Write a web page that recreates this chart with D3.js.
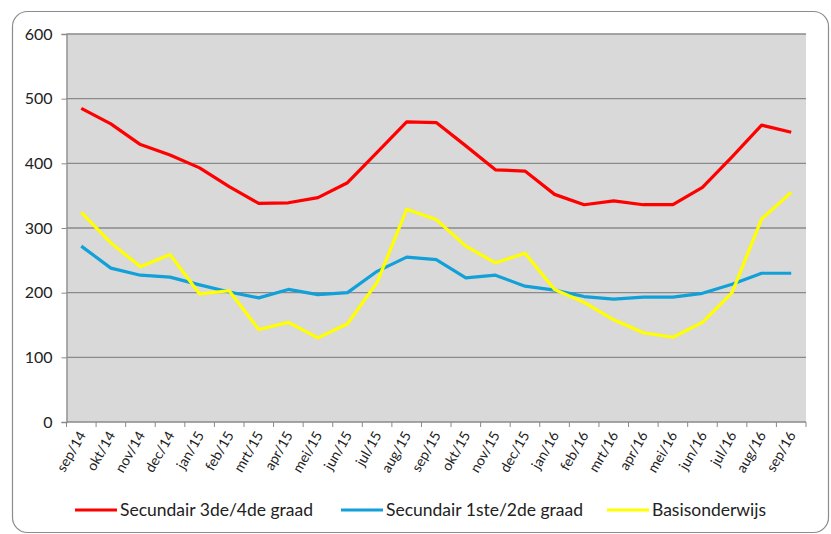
<!DOCTYPE html>
<html>
<head>
<meta charset="utf-8">
<script src="https://cdn.jsdelivr.net/npm/d3@7"></script>
<style>
  body { margin: 0; background: #fff; }
  svg text { font-family: Lato, "Open Sans", sans-serif; fill: #222; }
</style>
</head>
<body>
<div id="chart"></div>
<script>
var months = ["sep/14","okt/14","nov/14","dec/14","jan/15","feb/15","mrt/15","apr/15","mei/15","jun/15","jul/15","aug/15",
              "sep/15","okt/15","nov/15","dec/15","jan/16","feb/16","mrt/16","apr/16","mei/16","jun/16","jul/16","aug/16","sep/16"];

var sec34 = [485, 461, 429, 413, 393, 364, 338, 339, 347, 370, 417, 464,
             463, 427, 390, 388, 352, 336, 342, 336, 336, 363, 410, 459, 448];
var sec12 = [272, 238, 227, 224, 212, 201, 192, 205, 197, 200, 233, 255,
             251, 223, 227, 210, 204, 194, 190, 193, 193, 199, 213, 230, 230];
var basis = [324, 277, 240, 259, 198, 203, 143, 154, 130, 152, 216, 329,
             313, 272, 246, 261, 205, 185, 158, 138, 131, 154, 200, 314, 355];

var seriesNames = ["Secundair 3de/4de graad", "Secundair 1ste/2de graad", "Basisonderwijs"];
var seriesColors = ["#ff0000", "#12a0d8", "#ffff00"];
var yTicks = [0, 100, 200, 300, 400, 500, 600];

var W = 831, H = 534;
var margin = { top: 34, right: 25, bottom: 112, left: 66.5 };
var width = W - margin.left - margin.right,
    height = H - margin.top - margin.bottom;

var svg = d3.select("#chart").append("svg")
    .attr("width", W)
    .attr("height", H);

// outer frame
svg.append("rect")
    .attr("x", 12.5).attr("y", 11.5)
    .attr("width", 816).attr("height", 521)
    .attr("rx", 15).attr("ry", 15)
    .attr("fill", "#fff")
    .attr("stroke", "#8c8c8c")
    .attr("stroke-width", 1.2);

var g = svg.append("g")
    .attr("transform", "translate(" + margin.left + "," + margin.top + ")");

var x = d3.scaleBand().domain(months).range([0, width]);
var y = d3.scaleLinear().domain([0, 600]).range([height, 0]);

g.append("rect")
    .attr("width", width).attr("height", height)
    .attr("fill", "#d9d9d9");

// gridlines
g.append("g").selectAll("line")
    .data(yTicks.filter(function(d) { return d > 0; }))
    .enter().append("line")
    .attr("x1", 0).attr("x2", width)
    .attr("y1", function(d) { return y(d); })
    .attr("y2", function(d) { return y(d); })
    .attr("stroke", "#8a8a8a")
    .attr("stroke-width", 1.3);

// y axis
var yAxis = g.append("g")
    .call(d3.axisLeft(y).tickValues(yTicks).tickSize(5).tickPadding(9));
yAxis.select(".domain").attr("stroke", "#8a8a8a").attr("stroke-width", 1.3);
yAxis.selectAll(".tick line").attr("stroke", "#8a8a8a");
yAxis.selectAll("text").style("font-size", "16px").attr("fill", "#222");

// x axis with ticks on category boundaries
var xAxis = g.append("g")
    .attr("transform", "translate(0," + height + ")");
xAxis.append("line")
    .attr("x1", 0).attr("x2", width)
    .attr("stroke", "#8a8a8a").attr("stroke-width", 1.3);
xAxis.selectAll("line.tk")
    .data(months.concat(["end"]))
    .enter().append("line")
    .attr("class", "tk")
    .attr("x1", function(d, i) { return i * x.bandwidth(); })
    .attr("x2", function(d, i) { return i * x.bandwidth(); })
    .attr("y1", 0).attr("y2", 5)
    .attr("stroke", "#8a8a8a");
xAxis.selectAll("text")
    .data(months)
    .enter().append("text")
    .attr("text-anchor", "end")
    .attr("transform", function(d) {
        return "translate(" + (x(d) + x.bandwidth() / 2 + 5) + ",13) rotate(-60)";
    })
    .style("font-size", "14px")
    .text(function(d) { return d; });

// lines
var allSeries = [sec34, sec12, basis];
var line = d3.line()
    .x(function(d, i) { return x(months[i]) + x.bandwidth() / 2; })
    .y(function(d) { return y(d); });

g.selectAll("path.series")
    .data(allSeries)
    .enter().append("path")
    .attr("class", "series")
    .attr("d", line)
    .attr("fill", "none")
    .attr("stroke", function(d, i) { return seriesColors[i]; })
    .attr("stroke-width", 3.2)
    .attr("stroke-linejoin", "round");

// legend
var legendX = [75, 341, 607];
var legend = svg.append("g").selectAll("g")
    .data(seriesNames)
    .enter().append("g")
    .attr("transform", function(d, i) { return "translate(" + legendX[i] + ",510)"; });
legend.append("line")
    .attr("x1", 0).attr("x2", 42)
    .attr("stroke", function(d, i) { return seriesColors[i]; })
    .attr("stroke-width", 3.2);
legend.append("text")
    .attr("x", 45).attr("y", 6)
    .style("font-size", "17.5px")
    .text(function(d) { return d; });
</script>
</body>
</html>
